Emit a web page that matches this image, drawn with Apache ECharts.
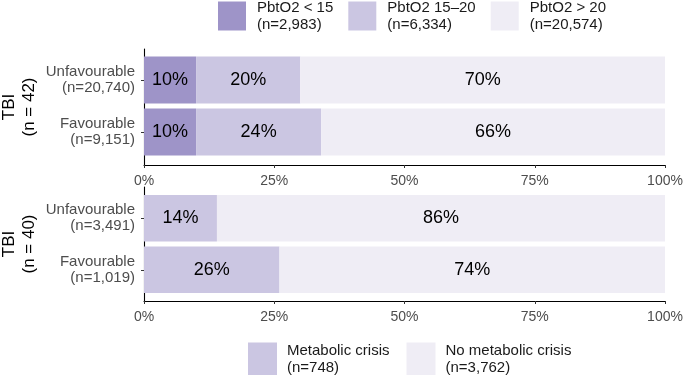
<!DOCTYPE html>
<html>
<head>
<meta charset="utf-8">
<script src="https://cdn.jsdelivr.net/npm/echarts@6/dist/echarts.min.js"></script>
<style>html,body{margin:0;padding:0;background:#fff}#c{width:685px;height:375px}</style>
</head>
<body>
<div id="c"></div>
<script>
// ---- data ----
const topCategories = ['Unfavourable\n(n=20,740)', 'Favourable\n(n=9,151)'];
const bottomCategories = ['Unfavourable\n(n=3,491)', 'Favourable\n(n=1,019)'];
const topPanelTitle = 'TBI\n(n = 42)';
const bottomPanelTitle = 'TBI\n(n = 40)';
const pbtLowName = 'PbtO2 < 15\n(n=2,983)';
const pbtMidName = 'PbtO2 15\u201320\n(n=6,334)';
const pbtHighName = 'PbtO2 > 20\n(n=20,574)';
const pbtLow = [10, 10];
const pbtMid = [20, 24];
const pbtHigh = [70, 66];
const crisisName = 'Metabolic crisis\n(n=748)';
const noCrisisName = 'No metabolic crisis\n(n=3,762)';
const crisis = [14, 26];
const noCrisis = [86, 74];
const xMin = 0, xMax = 100, xInterval = 25;

// ---- styling ----
const FONT = '"Liberation Sans", Arial, Helvetica, sans-serif';
const C_DARK = '#9e94c8', C_MID = '#cbc6e2', C_LIGHT = '#efedf5';
const LEFT = 144, RIGHT = 20;

function frameX(gi) {
  return {
    type: 'value', gridIndex: gi, min: xMin, max: xMax, interval: xInterval,
    axisLine: {show: true, lineStyle: {color: '#000', width: 1.1}},
    axisTick: {show: true, length: 3, lineStyle: {color: '#333', width: 1}},
    axisLabel: {formatter: '{value}%', color: '#4d4d4d', fontSize: 14, fontFamily: FONT, margin: 9},
    splitLine: {show: false}
  };
}
function frameY(gi, name) {
  return {
    type: 'value', gridIndex: gi, min: 0, max: 1,
    axisLine: {show: true, lineStyle: {color: '#000', width: 1.1}},
    axisTick: {show: false}, axisLabel: {show: false}, splitLine: {show: false},
    name: name, nameLocation: 'middle', nameRotate: 90, nameGap: 105,
    nameTextStyle: {color: '#000', fontSize: 17, fontFamily: FONT, lineHeight: 20}
  };
}
function barX(gi) {
  return {type: 'value', gridIndex: gi, min: xMin, max: xMax, show: false};
}
function barY(gi, cats) {
  return {
    type: 'category', gridIndex: gi, data: cats, inverse: true,
    axisLine: {show: false},
    axisTick: {show: true, alignWithLabel: true, length: 3, lineStyle: {color: '#333', width: 1}},
    axisLabel: {color: '#4d4d4d', fontSize: 15, fontFamily: FONT, margin: 9, align: 'right', lineHeight: 16}
  };
}
function barSeries(name, data, gi, color, stack) {
  return {
    type: 'bar', name: name, data: data, xAxisIndex: gi, yAxisIndex: gi, stack: stack,
    barCategoryGap: '10%', itemStyle: {color: color}, silent: true,
    label: {show: true, position: 'inside', formatter: '{c}%', color: '#000', fontSize: 18, fontFamily: FONT}
  };
}
function grid(top, height) {
  return {left: LEFT, right: RIGHT, top: top, height: height, containLabel: false, outerBoundsMode: 'none'};
}

const option = {
  animation: false,
  textStyle: {fontFamily: FONT},
  grid: [
    grid(49, 116),    // panel 1 frame
    grid(54, 104),    // panel 1 bars
    grid(187, 114),   // panel 2 frame
    grid(192.5, 103)  // panel 2 bars
  ],
  xAxis: [frameX(0), barX(1), frameX(2), barX(3)],
  yAxis: [frameY(0, topPanelTitle), barY(1, topCategories), frameY(2, bottomPanelTitle), barY(3, bottomCategories)],
  legend: [
    {
      data: [pbtLowName, pbtMidName, pbtHighName],
      left: 218, top: -1, padding: 0, orient: 'horizontal',
      itemWidth: 28, itemHeight: 29, itemGap: 15, icon: 'rect',
      selectedMode: false,
      textStyle: {color: '#1a1a1a', fontSize: 15, fontFamily: FONT, lineHeight: 17, padding: [0, 0, 0, 6]}
    },
    {
      data: [crisisName, noCrisisName],
      left: 248, top: 341, padding: 0, orient: 'horizontal',
      itemWidth: 29, itemHeight: 34, itemGap: 17, icon: 'rect',
      selectedMode: false,
      textStyle: {color: '#1a1a1a', fontSize: 15, fontFamily: FONT, lineHeight: 17, padding: [3, 0, 0, 5]}
    }
  ],
  series: [
    barSeries(pbtLowName, pbtLow, 1, C_DARK, 'a'),
    barSeries(pbtMidName, pbtMid, 1, C_MID, 'a'),
    barSeries(pbtHighName, pbtHigh, 1, C_LIGHT, 'a'),
    barSeries(crisisName, crisis, 3, C_MID, 'b'),
    barSeries(noCrisisName, noCrisis, 3, C_LIGHT, 'b')
  ]
};
const chart = echarts.init(document.getElementById('c'), null, {renderer: 'canvas'});
chart.setOption(option);
</script>
</body>
</html>
